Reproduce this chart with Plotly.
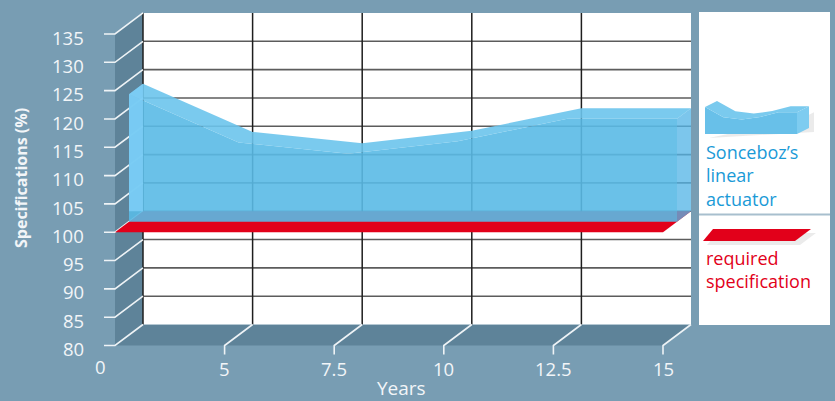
import plotly.graph_objects as go

# ---------------- data ----------------
x_labels = ["0", "5", "7.5", "10", "12.5", "15"]
x_pos = [0, 1, 2, 3, 4, 5]
actuator = [122.5, 114.0, 112.0, 114.2, 118.2, 118.2]   # Sonceboz's linear actuator
required_level = 100                                     # required specification
y_ticks = [80, 85, 90, 95, 100, 105, 110, 115, 120, 125, 130, 135]
y_title = "Specifications (%)"
x_title = "Years"
legend_actuator = ["Sonceboz’s", "linear", "actuator"]
legend_required = ["required", "specification"]

# ---------------- geometry (layout) ----------------
W, H = 835, 401
X0PX, XSTEP = 115.0, 109.6      # pixel of x position 0 on the front edge, px per category
Y80PX, YSTEP = 345.5, 5.664     # pixel of value 80 on the front edge, px per unit
YMIN, YMAX = y_ticks[0], y_ticks[-1]


def px2x(px):
    return (px - X0PX) / XSTEP


def py2y(py):
    return YMIN + (Y80PX - py) / YSTEP


DX = 28 / XSTEP          # depth offset in x units
DY = 21 / YSTEP          # depth offset in y units
HALF = 0.5

BG = "#789DB3"
WALL = "#5E8399"
RED = "#E2001A"
BLUE_TXT = "#1A9AD7"
TXT = "#F2F5F8"

fig = go.Figure()


def poly(xs, ys, color, line_color=None, lw=0):
    fig.add_trace(go.Scatter(
        x=list(xs) + [xs[0]], y=list(ys) + [ys[0]], mode="lines", fill="toself",
        fillcolor=color, line=dict(width=lw, color=line_color or color),
        hoverinfo="skip", showlegend=False))


def lines(segs, color, width):
    xs, ys = [], []
    for seg in segs:
        for (a, b) in seg:
            xs.append(a)
            ys.append(b)
        xs.append(None)
        ys.append(None)
    fig.add_trace(go.Scatter(x=xs, y=ys, mode="lines", line=dict(color=color, width=width),
                             hoverinfo="skip", showlegend=False))


xmax = x_pos[-1]

# walls
poly([0, 0, DX, DX], [YMIN, YMAX, YMAX + DY, YMIN + DY], WALL)
poly([0, xmax, xmax + DX, DX], [YMIN, YMIN, YMIN + DY, YMIN + DY], WALL)
poly([DX, xmax + DX, xmax + DX, DX], [YMIN + DY, YMIN + DY, YMAX + DY, YMAX + DY], "#FFFFFF")

# grid on back wall
lines([[(DX, v + DY), (xmax + DX, v + DY)] for v in y_ticks[1:-1]], "#5C5C5C", 1.6)
lines([[(p + DX, YMIN + DY), (p + DX, YMAX + DY)] for p in x_pos[:-1]], "#1E1E1E", 1.5)

# white tick lines with depth diagonals
tick_len_x = 11 / XSTEP
tick_len_y = 9 / YSTEP
segs = [[(-tick_len_x, v), (0, v), (DX, v + DY)] for v in y_ticks]
segs += [[(p, YMIN - tick_len_y), (p, YMIN), (p + DX, YMIN + DY)] for p in x_pos[1:]]
lines(segs, "#EEF3F6", 1.6)

# required specification plane
poly([0, xmax, xmax + DX, DX],
     [required_level, required_level, required_level + DY, required_level + DY], RED)

# actuator ribbon (from half depth to full depth)
fx = [p + HALF * DX for p in x_pos]
fy = [v + HALF * DY for v in actuator]
bx = [p + DX for p in x_pos]
by = [v + DY for v in actuator]
base_f = required_level + HALF * DY
base_b = required_level + DY

poly(fx + [fx[-1], fx[0]], fy + [base_f, base_f], "rgba(90,186,229,0.9)")
poly(fx + bx[::-1], fy + by[::-1], "rgba(107,196,236,0.9)")
poly([fx[0], bx[0], bx[0], fx[0]], [fy[0], by[0], base_b, base_b], "rgba(127,208,248,0.8)")
poly([fx[-1], bx[-1], bx[-1], fx[-1]], [fy[-1], by[-1], base_b, base_f], "rgba(84,181,230,0.77)")

# ---------------- legend panel ----------------
def P(px, py):
    return px2x(px), py2y(py)


def poly_px(pts, color):
    xs = [px2x(a) for a, b in pts]
    ys = [py2y(b) for a, b in pts]
    poly(xs, ys, color)


poly_px([(699, 12), (830, 12), (830, 325), (699, 325)], "#FFFFFF")
lines([[P(699, 214.5), P(830, 214.5)]], "#A8BFCE", 2)

# blue swatch: miniature of the actuator ribbon
ix0, istep, ibase, iscale = 705, 18.4, 134, 1.2
iox, ioy = 12, -6
ifx = [ix0 + p * istep for p in x_pos]
ify = [ibase - (v - required_level) * iscale for v in actuator]
ibx = [a + iox for a in ifx]
iby = [b + ioy for b in ify]
# shadow
poly_px([(ifx[0] + 4, ibase + 4), (ibx[-1] + 5, ibase + ioy + 4), (ibx[-1] + 5, iby[-1] + 6),
         (ifx[-1] + 5, ify[-1] + 6)], "rgba(60,60,60,0.10)")
poly_px(list(zip(ifx, ify)) + [(ifx[-1], ibase), (ifx[0], ibase)], "rgba(104,192,233,1)")
poly_px(list(zip(ifx, ify)) + list(zip(ibx, iby))[::-1], "rgba(122,202,238,1)")
poly_px([(ifx[-1], ify[-1]), (ibx[-1], iby[-1]), (ibx[-1], ibase + ioy), (ifx[-1], ibase)],
        "rgba(126,204,240,1)")

# red swatch
poly_px([(707, 245), (800, 245), (816, 233), (717, 233)], "rgba(60,60,60,0.10)")
poly_px([(703, 241), (795, 241), (811, 229), (713, 229)], RED)

# ---------------- text ----------------
ann = []
FONT = "Open Sans"
for v in y_ticks:
    ann.append(dict(x=px2x(86), y=v - 0.55, text=str(v), xanchor="right", yanchor="middle",
                    showarrow=False, font=dict(family=FONT, size=18.5, color=TXT)))
for p, lab in zip(x_pos, x_labels):
    if p == 0:
        xx, yy = px2x(100), py2y(366)
    else:
        xx, yy = p, py2y(368)
    ann.append(dict(x=xx, y=yy, text=lab, xanchor="center", yanchor="middle", showarrow=False,
                    font=dict(family=FONT, size=18.5, color=TXT)))
ann.append(dict(x=px2x(401), y=py2y(388), text=x_title, xanchor="center", yanchor="middle",
                showarrow=False, font=dict(family=FONT, size=19, color=TXT)))
ann.append(dict(x=px2x(21), y=py2y(178), text="<b>" + y_title + "</b>", textangle=-90,
                xanchor="center", yanchor="middle", showarrow=False,
                font=dict(family=FONT, size=16, color=TXT)))

ann.append(dict(x=px2x(704), y=py2y(175), text="<br>".join(legend_actuator), align="left",
                xanchor="left", yanchor="middle", showarrow=False,
                font=dict(family=FONT, size=18, color=BLUE_TXT)))
ann.append(dict(x=px2x(704), y=py2y(269), text="<br>".join(legend_required), align="left",
                xanchor="left", yanchor="middle", showarrow=False,
                font=dict(family=FONT, size=18, color=RED)))

fig.update_layout(
    width=W, height=H, autosize=False,
    margin=dict(l=0, r=0, t=0, b=0, pad=0),
    paper_bgcolor=BG, plot_bgcolor=BG,
    hovermode=False, showlegend=False,
    annotations=ann,
    xaxis=dict(range=[px2x(0), px2x(W)], visible=False, fixedrange=True),
    yaxis=dict(range=[py2y(H), py2y(0)], visible=False, fixedrange=True),
)

fig.write_html("out.html", config={"displayModeBar": False})
